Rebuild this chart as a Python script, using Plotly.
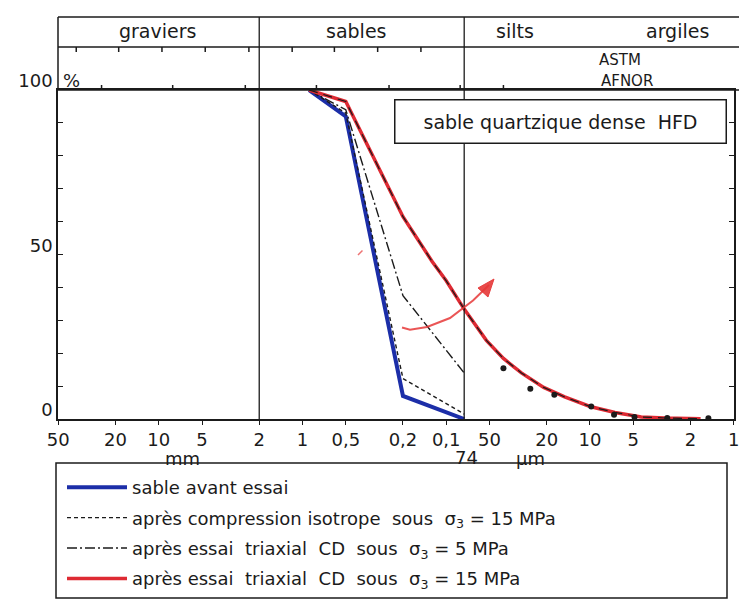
import numpy as np
import plotly.graph_objects as go

# ---- grain-size data: diameter (mm) vs percent passing -------------------
d_avant = [0.9, 0.5, 0.2, 0.075]
p_avant = [100, 92, 7, 0]

d_iso15 = [0.9, 0.5, 0.2, 0.075]
p_iso15 = [100, 93, 12.3, 1.5]

d_cd5 = [0.9, 0.5, 0.2, 0.075]
p_cd5 = [100, 94, 37.5, 14]

d_cd15 = [0.9, 0.5, 0.2, 0.125, 0.1, 0.075, 0.0526, 0.040, 0.030, 0.021,
          0.015, 0.010, 0.0067, 0.0044, 0.003, 0.0017]
p_cd15 = [100, 96.5, 61.5, 47.8, 42.0, 33.4, 23.9, 18.4, 14.0, 9.6,
          6.7, 3.8, 2.0, 0.6, 0.3, 0.1]

# sedimentometry points
d_sedim = [0.040, 0.026, 0.0177, 0.0098, 0.0068, 0.0049, 0.0029, 0.0015]
p_sedim = [15.4, 9.2, 7.4, 3.8, 1.3, 0.6, 0.3, 0.2]

# ---- scales ---------------------------------------------------------------
x_tick_mm = [50, 20, 10, 5, 2, 1, 0.5, 0.2, 0.1, 0.05, 0.02, 0.01, 0.005, 0.002, 0.001]
x_tick_txt = ["50", "20", "10", "5", "2", "1", "0,5", "0,2", "0,1",
              "50", "20", "10", "5", "2", "1"]
y_tick_vals = list(range(0, 101, 10))
y_tick_txt = ["0" if v == 0 else "50" if v == 50 else "100" if v == 100 else "" for v in y_tick_vals]

astm_sieves = [37.5, 19, 9.5, 4.75, 2.36, 1.18, 0.6, 0.3, 0.15]
afnor_sieves = [25, 8, 2.5, 0.8, 0.25, 0.08, 0.04]
class_limits = [2, 0.075]
class_names = ["graviers", "sables", "silts", "argiles"]

# axis range (log10 of mm), padded a hair so the end ticks stay labelled
LOG_MAX = np.log10(50) + 0.002
LOG_MIN = np.log10(0.001) - 0.002

# page geometry (px)
W, H = 739, 604
L, R, T, B = 58, 734, 90, 419
PW, PH = R - L, B - T


def xp(d):
    """paper x of a diameter on the reversed log axis"""
    return (LOG_MAX - np.log10(d)) / (LOG_MAX - LOG_MIN)


def px_x(px):
    return (px - L) / PW


def px_y(py):
    return (B - py) / PH


INK = "#1b1b1b"
fig = go.Figure()

fig.add_trace(go.Scatter(x=d_avant, y=p_avant, mode="lines", name="sable avant essai",
                         line=dict(color="#1c2ea8", width=4), legendgroup="a"))
fig.add_trace(go.Scatter(x=d_iso15, y=p_iso15, mode="lines",
                         name="après compression isotrope\u00a0 sous\u00a0 σ<sub>3</sub> = 15 MPa",
                         line=dict(color=INK, width=1.4, dash="4px,3px"), legendgroup="b"))
fig.add_trace(go.Scatter(x=d_cd5, y=p_cd5, mode="lines",
                         name="après essai\u00a0 triaxial\u00a0 CD\u00a0 sous\u00a0 σ<sub>3</sub> = 5 MPa",
                         line=dict(color=INK, width=1.4, dash="10px,3px,2px,3px"), legendgroup="c"))
fig.add_trace(go.Scatter(x=d_cd15, y=p_cd15, mode="lines",
                         name="après essai\u00a0 triaxial\u00a0 CD\u00a0 sous\u00a0 σ<sub>3</sub> = 15 MPa",
                         line=dict(color="#de2a33", width=3.5), legendgroup="d"))
fig.add_trace(go.Scatter(x=d_cd15, y=p_cd15, mode="lines", showlegend=False,
                         line=dict(color=INK, width=1.2, dash="9px,6px"), legendgroup="d"))
fig.add_trace(go.Scatter(x=d_sedim, y=p_sedim, mode="markers", showlegend=False,
                         marker=dict(color=INK, size=6), legendgroup="d"))

shapes = []
line = dict(color=INK, width=1.5)
y_top, y_row = px_y(17), px_y(47)
x_edge = px_x(W)
# header frame
for yy in (y_top, y_row, 1.0):
    shapes.append(dict(type="line", xref="paper", yref="paper", x0=0, x1=x_edge, y0=yy, y1=yy, line=line))
shapes.append(dict(type="line", xref="paper", yref="paper", x0=0, x1=0, y0=1, y1=y_top, line=line))
# class boundaries
for d in class_limits:
    shapes.append(dict(type="line", xref="paper", yref="paper", x0=xp(d), x1=xp(d), y0=0, y1=y_top,
                       line=dict(color=INK, width=1.3)))
# sieve series ticks
for d in astm_sieves:
    shapes.append(dict(type="line", xref="paper", yref="paper", x0=xp(d), x1=xp(d),
                       y0=y_row, y1=px_y(52), line=line))
for d in afnor_sieves:
    shapes.append(dict(type="line", xref="paper", yref="paper", x0=xp(d), x1=xp(d),
                       y0=1, y1=px_y(85), line=line))
# legend frame
shapes.append(dict(type="rect", xref="paper", yref="paper", x0=px_x(56), x1=px_x(727),
                   y0=px_y(598), y1=px_y(463), line=line))


# hand-drawn red arrow
def pth(pts, close=False):
    s = "M " + " L ".join(f"{px_x(a):.4f},{px_y(b):.4f}" for a, b in pts)
    return s + (" Z" if close else "")


arrow_pts = [(402, 327.5), (410, 329.7), (427, 327.0), (450, 318), (473, 300.5), (489, 285)]
shapes.append(dict(type="path", xref="paper", yref="paper", path=pth(arrow_pts),
                   line=dict(color="rgba(230,55,55,0.85)", width=2)))
shapes.append(dict(type="path", xref="paper", yref="paper",
                   path=pth([(494, 279), (478, 288), (488, 297)], close=True),
                   fillcolor="rgba(230,55,55,0.9)", line=dict(color="rgba(230,55,55,0.9)", width=1)))
shapes.append(dict(type="path", xref="paper", yref="paper", path=pth([(358, 255), (362.5, 250.5)]),
                   line=dict(color="rgba(230,55,55,0.7)", width=1.5)))

FONT = "DejaVu Sans"


def label(text, x, y, size=18, **kw):
    d = dict(text=text, xref="paper", yref="paper", x=x, y=y, showarrow=False,
             xanchor="center", yanchor="middle", font=dict(size=size, family=FONT, color=INK))
    d.update(kw)
    return d


ann = []
# class names
name_px = [157, 356, 515, 677]
for nm, xx in zip(class_names, name_px):
    ann.append(label(nm, px_x(xx), px_y(31), 19))
ann.append(label("ASTM", px_x(620), px_y(60), 15))
ann.append(label("AFNOR", px_x(627), px_y(81), 15))
ann.append(label("%", px_x(61), px_y(80), 18, xanchor="left"))
ann.append(label("sable quartzique dense\u00a0 HFD", px_x(560), px_y(121), 19,
                 width=326, height=38, bordercolor=INK, borderwidth=1.5, borderpad=2,
                 bgcolor="white"))
ann.append(label("74", xp(0.072), px_y(457), 18))
ann.append(label("mm", xp(6.8), px_y(458), 18))
ann.append(label("µm", xp(0.026), px_y(458), 18))

fig.update_layout(
    width=W, height=H,
    margin=dict(l=L, r=W - R, t=T, b=H - B, autoexpand=False),
    paper_bgcolor="white", plot_bgcolor="white",
    font=dict(family=FONT, size=18, color=INK),
    shapes=shapes, annotations=ann,
    legend=dict(x=px_x(62), y=px_y(469), xanchor="left", yanchor="top",
                bgcolor="rgba(0,0,0,0)", borderwidth=0, itemwidth=60,
                traceorder="grouped", tracegroupgap=4,
                font=dict(size=18, family=FONT, color=INK)),
    xaxis=dict(type="log", range=[LOG_MAX, LOG_MIN], showgrid=False, zeroline=False,
               showline=True, linecolor=INK, linewidth=1.5, mirror=True,
               ticks="outside", ticklen=4, tickcolor=INK, automargin=False,
               ticklabeloverflow="allow",
               tickvals=x_tick_mm, ticktext=x_tick_txt, tickfont=dict(size=18)),
    yaxis=dict(range=[0, 100], showgrid=False, zeroline=False,
               showline=True, linecolor=INK, linewidth=1.5, mirror="ticks",
               ticks="inside", ticklen=5, tickcolor=INK, automargin=False,
               tickvals=y_tick_vals, ticktext=y_tick_txt, tickfont=dict(size=18),
               ticklabelshift=-9),
)

fig.write_html("out.html")
